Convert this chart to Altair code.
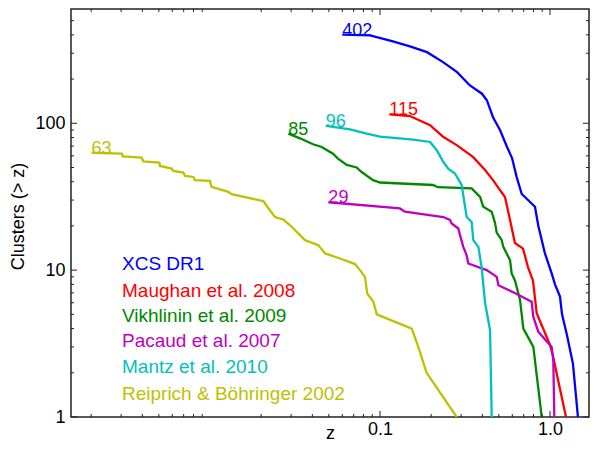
import altair as alt
import pandas as pd

# ---------------- data ----------------
series = ["XCS DR1", "Maughan et al. 2008", "Vikhlinin et al. 2009",
          "Pacaud et al. 2007", "Mantz et al. 2010", "Reiprich & Böhringer 2002"]
colors = ["#0000FF", "#FF0000", "#008800", "#C000C0", "#00C0C0", "#C0C000"]
count_labels = ["402", "115", "85", "29", "96", "63"]

xcs_z = [0.060, 0.0873, 0.1177, 0.150, 0.189, 0.235, 0.284, 0.338, 0.398, 0.426,
         0.462, 0.508, 0.559, 0.598, 0.637, 0.682, 0.816, 0.854, 0.934, 1.023,
         1.07, 1.145, 1.177, 1.259, 1.365, 1.46]
xcs_n = [402, 397, 363, 334, 305, 261, 223, 181, 159, 143,
         110, 90, 69, 58, 43, 33, 27, 20, 13, 9.5,
         8, 6.6, 5, 3.6, 2.3, 1]

maughan_z = [0.1135, 0.150, 0.197, 0.235, 0.2825, 0.352, 0.415, 0.462, 0.5435, 0.5816,
             0.622, 0.694, 0.742, 0.794, 0.835, 1.0, 1.041, 1.114, 1.242]
maughan_n = [115, 112, 97, 81, 71, 59, 48, 41, 31.5, 22,
             15.3, 14, 10.5, 8.5, 5.1, 3.1, 2.6, 1.8, 1]

vikhlinin_z = [0.0289, 0.0338, 0.0404, 0.0454, 0.0529, 0.0566, 0.0637, 0.0729, 0.078, 0.091,
               0.1, 0.205, 0.219, 0.346, 0.388, 0.405, 0.454, 0.4747, 0.486, 0.520,
               0.531, 0.582, 0.595, 0.622, 0.666, 0.697, 0.798, 0.894]
vikhlinin_n = [85, 79, 72, 69, 62, 57.5, 52, 50, 46.6, 41,
               39.5, 38, 36.7, 36, 31.5, 27, 25, 21, 18, 16,
               14.4, 11.7, 9.5, 8.5, 6.3, 4, 3, 1]

pacaud_z = [0.0497, 0.131, 0.140, 0.2357, 0.258, 0.264, 0.289, 0.2955, 0.309, 0.3236,
            0.3306, 0.424, 0.486, 0.497, 0.651, 0.78, 0.798, 0.854, 1.023, 1.046, 1.06]
pacaud_n = [29, 26.3, 25, 23, 22, 20.8, 19.2, 17.3, 14.4, 12.6,
            11.1, 10, 9, 7.9, 6.8, 6.1, 4.8, 3.8, 3, 2.45, 1]

mantz_z = [0.048, 0.0666, 0.0835, 0.1, 0.157, 0.197, 0.2156, 0.2357, 0.252, 0.276,
           0.302, 0.315, 0.3236, 0.346, 0.354, 0.379, 0.396, 0.415, 0.444, 0.454]
mantz_n = [96, 91, 85, 81, 77.5, 74.6, 65.5, 54.6, 49, 45.5,
           38, 28, 23, 21.3, 16, 14.4, 10.5, 6, 3.9, 1]

reiprich_z = [0.00201, 0.00303, 0.00307, 0.00396, 0.00405, 0.00504, 0.00508, 0.00595, 0.00608, 0.00697,
              0.00713, 0.00798, 0.00816, 0.0100, 0.0102, 0.0128, 0.0134, 0.0206, 0.022, 0.0241,
              0.027, 0.0296, 0.0362, 0.0434, 0.0475, 0.0582, 0.0713, 0.0763, 0.0816, 0.0842,
              0.0914, 0.0957, 0.1537, 0.168, 0.188, 0.2825]
reiprich_n = [63, 62.2, 59.6, 58.4, 55.1, 54, 51.2, 49.2, 47.4, 46.2,
              43.8, 43.1, 41, 40.5, 36.9, 34.1, 32.9, 29.5, 26.5, 23,
              22.1, 20.2, 16, 14.8, 13, 12, 11, 10, 9, 6.9,
              6.1, 5, 4, 3, 2, 1]

x_major_ticks = [0.1, 1.0]
x_minor_ticks = [0.002, 0.003, 0.004, 0.005, 0.006, 0.007, 0.008, 0.009,
                 0.02, 0.03, 0.04, 0.05, 0.06, 0.07, 0.08, 0.09,
                 0.2, 0.3, 0.4, 0.5, 0.6, 0.7, 0.8, 0.9]
y_major_ticks = [1, 10, 100]
y_minor_ticks = [2, 3, 4, 5, 6, 7, 8, 9, 20, 30, 40, 50, 60, 70, 80, 90, 200, 300, 400, 500]

# ---------------- tables ----------------
all_z = [xcs_z, maughan_z, vikhlinin_z, pacaud_z, mantz_z, reiprich_z]
all_n = [xcs_n, maughan_n, vikhlinin_n, pacaud_n, mantz_n, reiprich_n]
rows = []
for s, zs, ns in zip(series, all_z, all_n):
    for i, (z, n) in enumerate(zip(zs, ns)):
        rows.append({"series": s, "z": z, "n": n, "order": i})
df = pd.DataFrame(rows)

lab_df = pd.DataFrame({"series": series, "z": [zs[0] for zs in all_z],
                       "n": [ns[0] for ns in all_n], "label": count_labels})

# ---------------- layout ----------------
W, H = 518, 408
FONT = "Liberation Sans"
xscale = alt.Scale(type="log", domain=[0.001522, 1.696], nice=False)
yscale = alt.Scale(type="log", domain=[1, 600], nice=False)
xaxis = alt.Axis(values=x_major_ticks, format=".1f", title="z", labelPadding=3,
                 titleBaseline="alphabetic", titleY=21)
yaxis = alt.Axis(values=y_major_ticks, format="d", title="Clusters (> z)", labelPadding=6,
                 titleX=-53, titleY=207, titleAngle=270, titleAlign="center",
                 titleBaseline="middle")
color = alt.Color("series:N", scale=alt.Scale(domain=series, range=colors), legend=None)

lines = alt.Chart(df).mark_line(strokeWidth=2.3, clip=True).encode(
    x=alt.X("z:Q", scale=xscale, axis=xaxis),
    y=alt.Y("n:Q", scale=yscale, axis=yaxis),
    color=color,
    order="order:Q",
    detail="series:N",
)

labels = alt.Chart(lab_df).mark_text(align="left", baseline="alphabetic",
                                     fontSize=18, font=FONT, dy=1).encode(
    x=alt.X("z:Q", scale=xscale, axis=xaxis),
    y=alt.Y("n:Q", scale=yscale, axis=yaxis),
    text="label:N",
    color=color,
)

legend_baselines = [261, 288, 312.7, 338, 364, 391]
legend_layers = []
one = pd.DataFrame({"k": [0]})
for name, col, yb in zip(series, colors, legend_baselines):
    legend_layers.append(
        alt.Chart(one).mark_text(align="left", baseline="alphabetic", fontSize=19, font=FONT).encode(
            x=alt.value(51), y=alt.value(yb), text=alt.value(name), color=alt.value(col))
    )

def xticks(vals, length):
    d = pd.DataFrame({"z": vals})
    base = alt.Chart(d).mark_rule(color="#222", strokeWidth=1)
    bottom = base.encode(x=alt.X("z:Q", scale=xscale, axis=xaxis), y=alt.value(H), y2=alt.value(H - length))
    top = base.encode(x=alt.X("z:Q", scale=xscale, axis=xaxis), y=alt.value(0), y2=alt.value(length))
    return [bottom, top]

def yticks(vals, length):
    d = pd.DataFrame({"n": vals})
    base = alt.Chart(d).mark_rule(color="#222", strokeWidth=1)
    left = base.encode(y=alt.Y("n:Q", scale=yscale, axis=yaxis), x=alt.value(0), x2=alt.value(length))
    right = base.encode(y=alt.Y("n:Q", scale=yscale, axis=yaxis), x=alt.value(W), x2=alt.value(W - length))
    return [left, right]

ticks = xticks(x_major_ticks, 6) + xticks(x_minor_ticks, 3) + yticks(y_major_ticks, 6) + yticks(y_minor_ticks, 3)

chart = alt.layer(lines, labels, *ticks, *legend_layers).properties(
    width=W, height=H,
    autosize=alt.AutoSizeParams(type="none"),
    padding={"left": 63, "top": 1, "right": 1, "bottom": 27},
).configure_view(
    stroke="#222", strokeWidth=1.5
).configure_axis(
    labelFont=FONT, titleFont=FONT, labelFontSize=18, titleFontSize=18,
    labelColor="black", titleColor="black", titleFontWeight="normal",
    ticks=False, domain=False, grid=False,
)

chart.save("out.html", embed_options={"renderer": "svg", "actions": False})
